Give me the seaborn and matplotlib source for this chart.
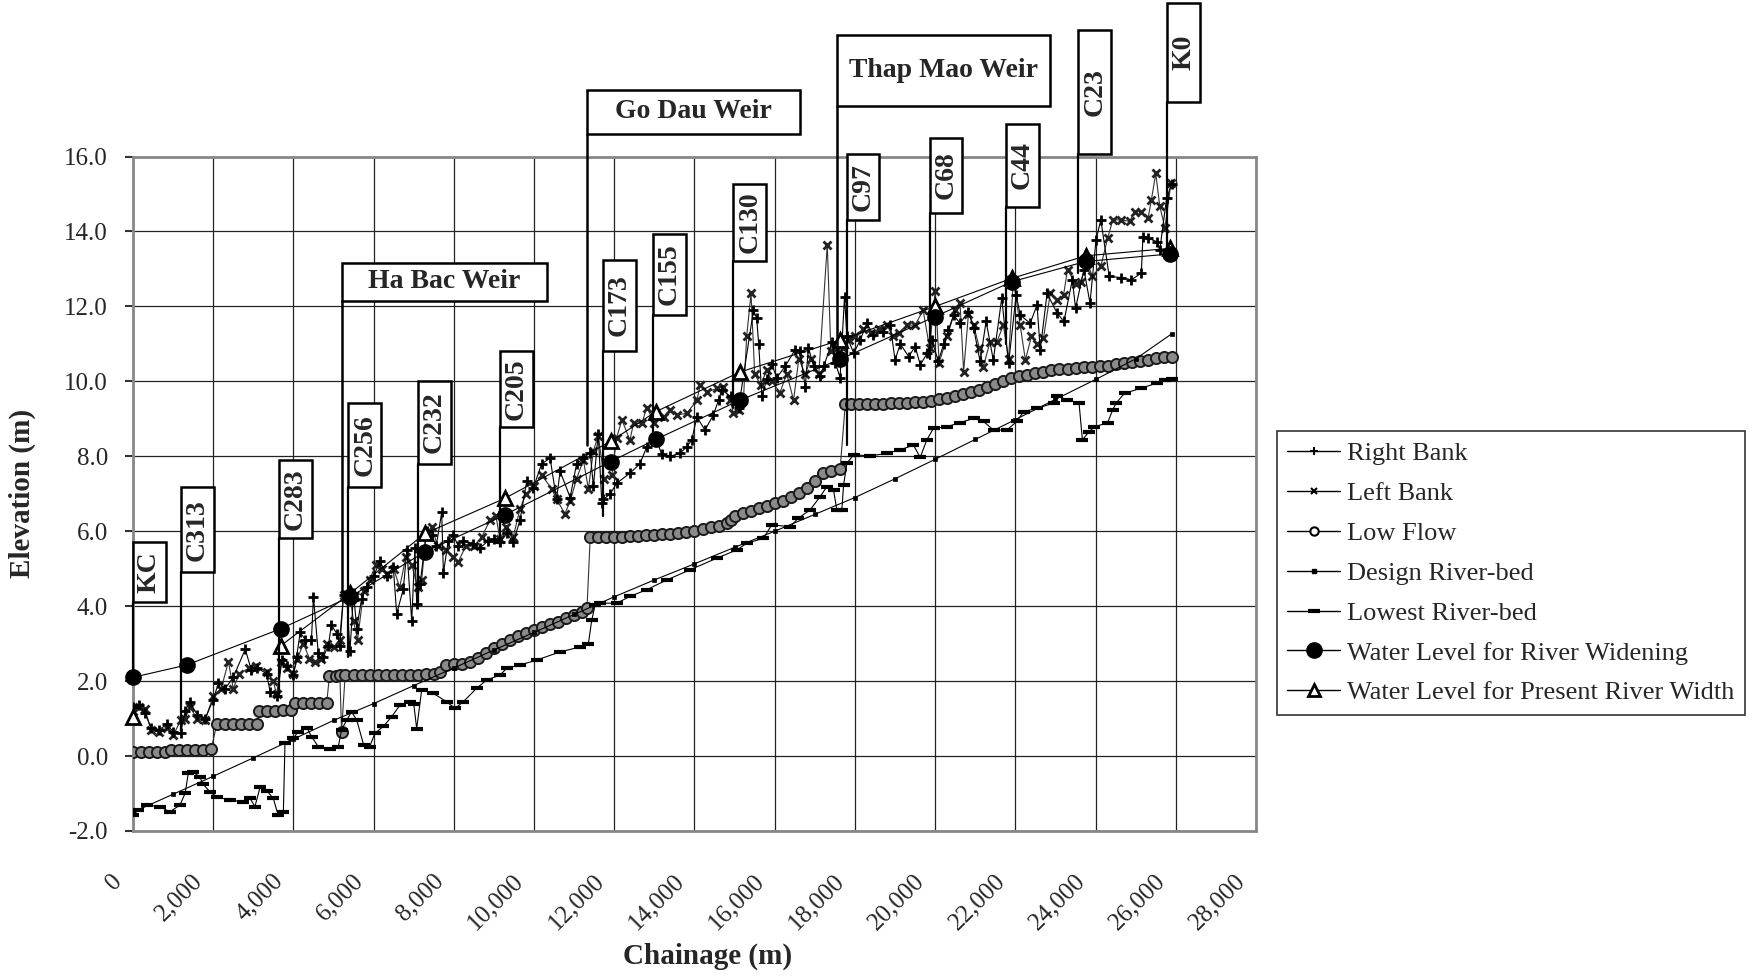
import matplotlib
matplotlib.use('Agg')
import matplotlib.pyplot as plt
import matplotlib.patches as mpatches
import matplotlib.transforms as mtransforms
from matplotlib.lines import Line2D
import seaborn as sns

# Perfil longitudinal do rio - cotas (m) x estaqueamento (m)

# Right Bank
rb_x = [0, 150, 300, 450, 650, 850, 1000, 1190, 1300, 1420,
        1600, 1800, 2000, 2130, 2300, 2500, 2800, 2950, 3100, 3330,
        3420, 3600, 3710, 3850, 4000, 4080, 4170, 4300, 4450, 4500,
        4620, 4750, 4870, 4950, 5080, 5160, 5250, 5330, 5410, 5500,
        5580, 5700, 5830, 6000, 6160, 6330, 6490, 6575, 6740, 6830,
        6950, 7030, 7074, 7160, 7320, 7450, 7560, 7697, 7740, 7860,
        7990, 8110, 8240, 8490, 8650, 8860, 9000, 9150, 9320, 9480,
        9650, 9820, 9980, 10190, 10400, 10560, 10650, 10900, 11060, 11230,
        11400, 11480, 11600, 11690, 11730, 11900, 12060, 12390, 12640, 12810,
        13060, 13180, 13390, 13640, 13810, 13930, 14060, 14260, 14470, 14600,
        14680, 14900, 15100, 15470, 15550, 15600, 15680, 15800, 15930, 16050,
        16260, 16510, 16630, 16760, 16840, 16970, 17130, 17220, 17430, 17510,
        17630, 17740, 17800, 17970, 18130, 18300, 18460, 18710, 18880, 19000,
        19130, 19340, 19500, 19630, 19800, 19920, 20080, 20210, 20330, 20460,
        20620, 20830, 20960, 21120, 21270, 21450, 21660, 21830, 22020, 22120,
        22370, 22540, 22620, 22790, 23040, 23210, 23420, 23500, 23710, 23860,
        24010, 24130, 24340, 24640, 24890, 25140, 25180, 25310, 25520, 25600,
        25770, 25900]
rb_y = [1.30, 1.35, 1.15, 0.75, 0.70, 0.85, 0.65, 0.62, 1.20, 1.45,
        1.10, 1.00, 1.50, 1.95, 1.80, 2.10, 2.85, 2.30, 2.35, 2.20,
        1.72, 1.60, 2.55, 2.40, 2.15, 2.65, 3.30, 3.10, 3.10, 4.25,
        2.75, 2.65, 2.95, 3.50, 3.27, 2.95, 4.30, 4.30, 2.80, 4.35,
        3.40, 4.20, 4.50, 4.80, 5.20, 4.80, 5.05, 3.80, 4.45, 5.50,
        3.60, 5.55, 4.05, 4.60, 6.00, 5.90, 5.60, 6.50, 4.88, 5.75,
        5.90, 5.60, 5.75, 5.65, 5.55, 5.75, 5.80, 5.70, 5.95, 5.70,
        6.30, 7.35, 7.15, 7.80, 7.95, 6.85, 7.60, 6.90, 7.80, 7.95,
        8.10, 7.20, 8.60, 6.75, 6.85, 7.00, 7.28, 7.55, 7.80, 8.25,
        8.43, 8.05, 8.00, 8.08, 8.26, 8.43, 9.05, 8.70, 9.10, 9.50,
        9.77, 9.60, 9.30, 11.90, 11.68, 11.00, 9.60, 10.05, 10.45, 10.10,
        10.40, 10.85, 10.80, 9.85, 10.90, 10.40, 10.15, 10.40, 11.05, 10.50,
        10.10, 12.26, 11.20, 10.75, 11.10, 11.55, 11.24, 11.33, 11.50, 10.57,
        11.00, 10.66, 10.93, 10.44, 10.75, 11.10, 10.53, 11.00, 11.37, 11.77,
        11.55, 11.86, 11.42, 10.53, 11.60, 10.57, 12.22, 10.48, 12.31, 11.77,
        11.55, 12.04, 10.84, 12.35, 11.82, 11.60, 12.71, 11.95, 12.98, 12.09,
        13.77, 14.31, 12.80, 12.77, 12.71, 12.89, 13.86, 13.82, 13.73, 13.51,
        14.89, 15.28]

# Left Bank
lb_x = [0, 150, 300, 450, 650, 850, 1000, 1190, 1300, 1420,
        1600, 1800, 2000, 2200, 2380, 2500, 2650, 2900, 3080, 3330,
        3500, 3580, 3700, 3830, 4000, 4100, 4250, 4400, 4550, 4700,
        4850, 5000, 5150, 5250, 5400, 5500, 5600, 5750, 5900, 6050,
        6200, 6330, 6500, 6650, 6800, 6950, 7100, 7200, 7300, 7450,
        7600, 7800, 7990, 8110, 8300, 8500, 8700, 8900, 9050, 9150,
        9300, 9480, 9650, 9800, 10000, 10190, 10440, 10560, 10770, 10900,
        11060, 11230, 11354, 11480, 11600, 11750, 11940, 12060, 12190, 12390,
        12480, 12690, 12810, 13000, 13230, 13390, 13560, 13810, 14060, 14140,
        14310, 14560, 14720, 14890, 14970, 15100, 15220, 15300, 15410, 15500,
        15650, 15800, 15930, 16130, 16300, 16470, 16600, 16760, 16900, 17100,
        17310, 17400, 17550, 17700, 17850, 18000, 18200, 18400, 18600, 18800,
        18950, 19100, 19300, 19500, 19700, 19860, 20000, 20100, 20300, 20500,
        20620, 20710, 20830, 20960, 21100, 21200, 21370, 21540, 21700, 21830,
        21950, 22120, 22250, 22400, 22540, 22700, 22870, 23040, 23200, 23300,
        23500, 23630, 23780, 23920, 24130, 24300, 24430, 24640, 24850, 24970,
        25140, 25310, 25390, 25500, 25600, 25730, 25880]
lb_y = [1.20, 1.30, 1.25, 0.70, 0.65, 0.75, 0.55, 0.95, 1.00, 1.30,
        1.00, 0.95, 1.60, 1.80, 2.52, 1.80, 2.20, 2.35, 2.40, 2.25,
        2.00, 1.65, 2.50, 2.35, 2.20, 2.60, 3.00, 2.60, 2.50, 2.60,
        3.00, 2.90, 3.10, 4.30, 4.35, 3.60, 3.10, 4.40, 4.70, 5.10,
        5.00, 4.85, 5.00, 4.50, 5.30, 5.10, 4.50, 4.70, 5.90, 6.10,
        5.60, 5.50, 5.30, 5.19, 5.60, 5.60, 5.85, 6.30, 6.40, 5.80,
        6.10, 5.85, 6.60, 7.00, 7.20, 7.50, 7.13, 6.85, 6.47, 6.80,
        7.40, 7.90, 7.13, 8.15, 8.55, 7.40, 7.50, 8.50, 8.97, 8.43,
        8.88, 8.88, 9.30, 8.90, 9.06, 9.24, 9.10, 9.15, 9.50, 9.90,
        9.72, 9.81, 9.86, 9.50, 9.15, 9.24, 9.50, 11.20, 12.35, 10.20,
        9.90, 10.30, 10.00, 9.70, 10.20, 9.50, 10.60, 10.20, 10.60, 10.20,
        13.65, 10.80, 10.90, 10.90, 11.10, 11.20, 11.40, 11.30, 11.40, 11.50,
        11.20, 11.30, 11.50, 11.50, 11.90, 10.90, 12.40, 10.50, 11.20, 11.90,
        12.10, 10.26, 11.80, 11.50, 10.90, 10.39, 11.06, 11.06, 11.50, 10.60,
        12.70, 11.50, 10.57, 11.20, 11.00, 11.15, 12.35, 12.17, 12.30, 12.98,
        12.60, 12.66, 13.20, 12.80, 13.07, 13.82, 14.31, 14.31, 14.27, 14.53,
        14.53, 14.36, 14.84, 15.55, 14.67, 14.10, 15.30]

# Low Flow
lf_x = [0, 200, 400, 600, 800, 950, 1150, 1350, 1550, 1750,
        1950, 2090, 2300, 2500, 2700, 2900, 3100, 3150, 3350, 3550,
        3750, 3950, 4050, 4250, 4450, 4650, 4830, 4900, 5050, 5160,
        5200, 5290, 5500, 5700, 5900, 6100, 6300, 6500, 6700, 6900,
        7100, 7300, 7500, 7650, 7800, 8000, 8200, 8400, 8600, 8800,
        9000, 9200, 9400, 9600, 9800, 10000, 10200, 10400, 10600, 10800,
        11000, 11200, 11320, 11400, 11600, 11800, 12000, 12200, 12400, 12600,
        12800, 13000, 13200, 13400, 13600, 13800, 14000, 14200, 14400, 14600,
        14800, 14900, 15000, 15200, 15400, 15600, 15800, 16000, 16200, 16400,
        16600, 16800, 17000, 17200, 17400, 17630, 17760, 17900, 18100, 18300,
        18500, 18700, 18900, 19100, 19300, 19500, 19700, 19900, 20100, 20300,
        20500, 20700, 20900, 21100, 21300, 21500, 21700, 21900, 22100, 22300,
        22500, 22700, 22900, 23100, 23300, 23500, 23700, 23900, 24100, 24300,
        24500, 24700, 24900, 25100, 25300, 25500, 25700, 25900]
lf_y = [0.10, 0.10, 0.10, 0.10, 0.12, 0.17, 0.17, 0.17, 0.17, 0.17,
        0.18, 0.85, 0.85, 0.85, 0.85, 0.85, 0.86, 1.21, 1.21, 1.21,
        1.22, 1.22, 1.41, 1.41, 1.41, 1.41, 1.42, 2.14, 2.14, 2.15,
        0.65, 2.15, 2.15, 2.15, 2.15, 2.15, 2.15, 2.15, 2.15, 2.16,
        2.17, 2.18, 2.20, 2.25, 2.42, 2.45, 2.46, 2.50, 2.62, 2.75,
        2.88, 3.00, 3.10, 3.20, 3.28, 3.36, 3.44, 3.52, 3.58, 3.68,
        3.76, 3.85, 3.95, 5.84, 5.84, 5.84, 5.85, 5.85, 5.86, 5.88,
        5.90, 5.91, 5.92, 5.93, 5.95, 5.97, 6.00, 6.05, 6.10, 6.15,
        6.22, 6.30, 6.40, 6.48, 6.55, 6.62, 6.68, 6.75, 6.82, 6.92,
        7.02, 7.15, 7.35, 7.55, 7.62, 7.66, 9.40, 9.40, 9.40, 9.40,
        9.40, 9.40, 9.41, 9.42, 9.43, 9.44, 9.45, 9.48, 9.52, 9.56,
        9.60, 9.65, 9.72, 9.78, 9.85, 9.92, 10.00, 10.08, 10.13, 10.18,
        10.22, 10.26, 10.30, 10.32, 10.34, 10.36, 10.38, 10.39, 10.40, 10.42,
        10.45, 10.48, 10.52, 10.55, 10.58, 10.62, 10.64, 10.66]

# Design River-bed
ds_x = [0, 1000, 2000, 3000, 4000, 5000, 6000, 7000, 8000, 9000,
        10000, 11000, 12000, 13000, 14000, 15000, 16000, 17000, 18000, 19000,
        20000, 21000, 22000, 23000, 24000, 25000, 25900]
ds_y = [-1.50, -1.02, -0.54, -0.05, 0.45, 0.95, 1.40, 1.88, 2.35, 2.83,
        3.30, 3.78, 4.25, 4.70, 5.13, 5.57, 6.00, 6.45, 6.90, 7.40,
        7.92, 8.45, 8.98, 9.52, 10.05, 10.60, 11.27]

# Lowest River-bed
bed_x = [0, 130, 340, 670, 920, 1170, 1300, 1380, 1500, 1670,
         1750, 1920, 2090, 2420, 2750, 2920, 3040, 3170, 3330, 3500,
         3620, 3750, 3790, 4000, 4120, 4330, 4460, 4620, 4910, 5120,
         5200, 5330, 5450, 5580, 5750, 5900, 6035, 6243, 6450, 6658,
         6908, 7000, 7074, 7198, 7489, 7821, 8029, 8237, 8570, 8819,
         9151, 9317, 9650, 10065, 10647, 11146, 11354, 11437, 11520, 11646,
         12062, 12394, 12810, 13309, 13890, 14555, 15054, 15303, 15718, 15926,
         16383, 16591, 16882, 17131, 17300, 17466, 17549, 17674, 17716, 17799,
         17965, 18381, 18796, 19128, 19460, 19627, 19793, 19959, 20292, 20624,
         20957, 21206, 21455, 21788, 22037, 22203, 22535, 22957, 23041, 23293,
         23587, 23671, 23839, 23965, 24301, 24427, 24511, 24721, 25141, 25519,
         25729, 25900]
bed_y = [-1.58, -1.44, -1.31, -1.35, -1.49, -1.31, -1.00, -0.46, -0.42, -0.57,
         -0.75, -0.96, -1.09, -1.18, -1.22, -1.13, -1.35, -0.83, -0.92, -1.13,
         -1.58, -1.49, 0.34, 0.48, 0.65, 0.76, 0.51, 0.25, 0.20, 0.25,
         0.70, 0.96, 1.18, 0.96, 0.30, 0.25, 0.61, 0.79, 1.05, 1.36,
         1.45, 1.40, 0.73, 1.76, 1.67, 1.45, 1.27, 1.45, 1.81, 2.03,
         2.16, 2.34, 2.43, 2.56, 2.78, 2.91, 3.00, 3.62, 4.02, 4.08,
         4.08, 4.26, 4.44, 4.70, 4.97, 5.28, 5.50, 5.68, 5.81, 6.17,
         6.12, 6.35, 6.57, 6.92, 7.19, 7.10, 6.57, 6.57, 7.23, 7.81,
         8.04, 8.01, 8.08, 8.17, 8.30, 7.97, 8.44, 8.75, 8.79, 8.90,
         9.01, 8.93, 8.70, 8.70, 8.93, 9.19, 9.28, 9.42, 9.61, 9.51,
         9.42, 8.44, 8.66, 8.78, 8.90, 9.24, 9.42, 9.68, 9.82, 9.95,
         10.04, 10.06]

# Water Level for River Widening
ww_x = [0, 1339, 3692, 5414, 7282, 9276, 11912, 13034, 15137, 17633, 20001, 21912, 23755, 25855]
ww_y = [2.10, 2.43, 3.40, 4.25, 5.45, 6.44, 7.86, 8.45, 9.50, 10.59, 11.73, 12.66, 13.20, 13.40]

# Water Level for Present River Width (KC ponto isolado)
pw_kc_x = [0]
pw_kc_y = [1.05]
pw_x = [3692, 5414, 7282, 9276, 11912, 13034, 15137, 17633, 20001, 21912, 23755, 25855]
pw_y = [2.95, 4.34, 5.94, 6.88, 8.40, 9.19, 10.25, 11.10, 12.00, 12.75, 13.35, 13.55]

# Secoes com rotulo
st_names = ['KC', 'C313', 'C283', 'C256', 'C232', 'C205', 'C173', 'C155', 'C130', 'C97', 'C68', 'C44', 'C23', 'K0']
st_x = [0, 1190, 3640, 5370, 7100, 9150, 11710, 12960, 14970, 17790, 19860, 21760, 23570, 25790]
st_end = [2.0, 0.6, 1.6, 2.65, 4.0, 5.6, 6.4, 8.4, 9.3, 8.3, 10.6, 11.0, 12.9, 13.5]
st_bot = [4.10, 4.90, 5.81, 7.18, 7.80, 8.79, 10.82, 11.78, 13.22, 14.30, 14.50, 14.66, 16.06, 17.46]
st_top = [5.70, 7.17, 7.90, 9.43, 10.00, 10.80, 13.24, 13.93, 15.28, 16.06, 16.50, 16.87, 19.37, 20.10]
st_w = 820

# Barragens (weirs)
weir_names = ['Ha Bac Weir', 'Go Dau Weir', 'Thap Mao Weir']
weir_x = [5205, 11320, 17560]
weir_x2 = [10330, 16640, 22870]
weir_end = [4.3, 8.3, 10.6]
weir_bot = [12.15, 16.61, 17.36]
weir_top = [13.16, 17.77, 19.24]

sns.set_style('whitegrid')
plt.rcParams['font.family'] = ['Liberation Serif', 'DejaVu Serif']

fig = plt.figure(figsize=(17.54, 9.76), dpi=100)
ax = fig.add_axes([0.0758, 0.1486, 0.6403, 0.691])

sns.lineplot(x=lf_x, y=lf_y, ax=ax, sort=False, estimator=None, color='#333333', linewidth=0.8,
             marker='o', markersize=8, mfc='#8a8a8a', mec='#1a1a1a', mew=1.4, zorder=3)
sns.lineplot(x=bed_x, y=bed_y, ax=ax, sort=False, estimator=None, color='black', linewidth=0.8,
             marker='_', markersize=9, mec='black', mew=3, zorder=3)
sns.lineplot(x=ds_x, y=ds_y, ax=ax, sort=False, estimator=None, color='black', linewidth=0.8,
             marker='s', markersize=3, mfc='black', mec='black', mew=0.5, zorder=3)
sns.lineplot(x=lb_x, y=lb_y, ax=ax, sort=False, estimator=None, color='#333333', linewidth=0.8,
             marker='x', markersize=6, mec='#222222', mew=2, zorder=4)
sns.lineplot(x=rb_x, y=rb_y, ax=ax, sort=False, estimator=None, color='black', linewidth=0.8,
             marker='+', markersize=7, mec='black', mew=2, zorder=4)
sns.lineplot(x=pw_x, y=pw_y, ax=ax, sort=False, estimator=None, color='black', linewidth=0.8,
             marker='^', markersize=10, mfc='white', mec='black', mew=2, zorder=5)
ax.plot(pw_kc_x, pw_kc_y, ls='none', marker='^', ms=10, mfc='white', mec='black', mew=2,
        zorder=5, clip_on=False)
sns.lineplot(x=ww_x, y=ww_y, ax=ax, sort=False, estimator=None, color='black', linewidth=0.8,
             marker='o', markersize=11, mfc='black', mec='black', mew=1, zorder=6, clip_on=False)

# Rotulos das secoes (caixas verticais)
for name, x, yend, yb, yt in zip(st_names, st_x, st_end, st_bot, st_top):
    ax.plot([x, x], [yend, yb], color='black', lw=1.6, zorder=8, clip_on=False)
    ax.add_patch(mpatches.Rectangle((x, yb), st_w, yt - yb, fc='white', ec='black', lw=1.8,
                                    zorder=9, clip_on=False))
    ax.text(x + st_w / 2, (yb + yt) / 2, name, rotation=90, ha='center', va='center',
            fontsize=20, fontweight='bold', zorder=10, clip_on=False)

# Rotulos das barragens
for name, x, x2, yend, yb, yt in zip(weir_names, weir_x, weir_x2, weir_end, weir_bot, weir_top):
    ax.plot([x, x], [yend, yb], color='black', lw=1.8, zorder=8, clip_on=False)
    ax.add_patch(mpatches.Rectangle((x, yb), x2 - x, yt - yb, fc='white', ec='black', lw=1.8,
                                    zorder=9, clip_on=False))
    ax.text((x + x2) / 2, (yb + yt) / 2, name, ha='center', va='center',
            fontsize=20, fontweight='bold', zorder=10, clip_on=False)

# Eixos
ax.set_xlim(0, 28000)
ax.set_ylim(-2, 16)
xt = list(range(0, 28001, 2000))
yt = [-2, 0, 2, 4, 6, 8, 10, 12, 14, 16]
ax.set_xticks(xt)
ax.set_xticklabels([f"{v:,}" for v in xt], rotation=45, ha='right', va='center',
                   rotation_mode='anchor', fontsize=18)
ax.set_yticks(yt)
ax.set_yticklabels([f"{v:.1f}" for v in yt], fontsize=18)
ax.tick_params(axis='x', bottom=False, pad=30)
ax.tick_params(axis='y', left=True, length=6, width=1.5, color='#333333', pad=12)
ax.grid(True, color='#222222', lw=0.9)
for s in ax.spines.values():
    s.set_color('#888888')
    s.set_linewidth(2)

# desloca os rotulos do eixo x um pouco para a esquerda
shift = mtransforms.ScaledTranslation(-10 / 72, 0, fig.dpi_scale_trans)
for lbl in ax.get_xticklabels():
    lbl.set_transform(lbl.get_transform() + shift)

ax.set_xlabel('Chainage (m)', fontsize=21, fontweight='bold')
ax.set_ylabel('Elevation (m)', fontsize=21, fontweight='bold')
ax.xaxis.set_label_coords(0.512, -0.165)
ax.yaxis.set_label_coords(-0.086, 0.5)

# Legenda
handles = [
    Line2D([], [], color='black', lw=1, marker='+', ms=6, mew=1.5),
    Line2D([], [], color='black', lw=1, marker='x', ms=5, mew=1.5),
    Line2D([], [], color='black', lw=1, marker='o', ms=6, mfc='white', mec='black', mew=1.5),
    Line2D([], [], color='black', lw=1, marker='s', ms=3, mfc='black', mec='black'),
    Line2D([], [], color='black', lw=1, marker='_', ms=8, mew=3),
    Line2D([], [], color='black', lw=1, marker='o', ms=11, mfc='black', mec='black'),
    Line2D([], [], color='black', lw=1, marker='^', ms=9, mfc='white', mec='black', mew=2),
]
labels = ['Right Bank', 'Left Bank', 'Low Flow', 'Design River-bed', 'Lowest River-bed',
          'Water Level for River Widening', 'Water Level for Present River Width']
leg = fig.legend(handles, labels, loc='upper left', bbox_to_anchor=(0.728, 0.558), fontsize=19,
                 frameon=True, fancybox=False, edgecolor='#333333', framealpha=1,
                 borderaxespad=0, handlelength=2.0, labelspacing=0.62, borderpad=0.4,
                 handletextpad=0.25)
leg.get_frame().set_linewidth(1.2)

fig.savefig('out.png', dpi=100)
